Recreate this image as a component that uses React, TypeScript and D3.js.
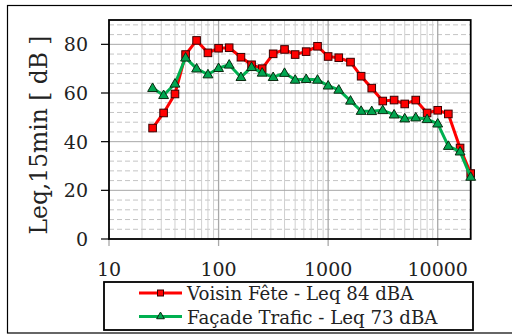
import React from "react";
import * as d3 from "d3";

const freqs = [25, 31.5, 40, 50, 63, 80, 100, 125, 160, 200, 250, 315, 400, 500, 630, 800, 1000, 1250, 1600, 2000, 2500, 3150, 4000, 5000, 6300, 8000, 10000, 12500, 16000, 20000];
const voisinFete = [45.6, 51.8, 59.6, 75.8, 81.6, 76.5, 78.4, 78.6, 74.7, 71.6, 70.0, 76.1, 77.9, 75.8, 77.0, 79.2, 75.0, 74.5, 72.7, 66.9, 62.0, 56.7, 57.1, 55.5, 57.1, 51.8, 52.9, 51.4, 37.4, 26.9];
const facadeTrafic = [62.0, 59.1, 63.8, 74.5, 70.0, 67.6, 70.2, 71.6, 66.5, 70.6, 68.3, 66.5, 68.2, 65.4, 65.7, 65.4, 63.0, 61.3, 56.8, 52.6, 52.5, 52.9, 51.1, 49.5, 49.9, 49.2, 47.4, 38.2, 35.9, 25.5];
const xTicks = [10, 100, 1000, 10000];
const yTicks = [0, 20, 40, 60, 80];
const seriesNames = ["Voisin Fête - Leq 84 dBA", "Façade Trafic - Leq 73 dBA"];
const yLabel = "Leq,15min [ dB ]";

const FONT = "'DejaVu Serif', serif";

export default function App() {
  const left = 109, right = 470.7, top = 20, bottom = 239;
  const x = d3.scaleLog().domain([10, 20000]).range([left, right]);
  const y = d3.scaleLinear().domain([0, 90]).range([bottom, top]);

  const minorX: number[] = [];
  [10, 100, 1000, 10000].forEach((dec) => {
    for (let k = 2; k <= 9; k++) {
      const v = dec * k;
      if (v < 20000) minorX.push(v);
    }
  });
  const minorYs = d3.range(0, 90, 4).filter((v) => v % 20 !== 0);

  const line = d3
    .line<number>()
    .x((_, i) => x(freqs[i]))
    .y((d) => y(d));

  const tri = d3.symbol().type(d3.symbolTriangle).size(42)();
  const triSmall = d3.symbol().type(d3.symbolTriangle).size(26)();

  const legY = [293, 316.5];

  return (
    <svg width={512} height={334} style={{ position: "fixed", left: 0, top: 0 }}>
      <rect x={0} y={0} width={512} height={334} fill="#fff" />
      <rect x={7.5} y={5.5} width={510} height={327.5} fill="none" stroke="#000" strokeWidth={1.2} />
      {minorYs.map((v) => (
        <line key={"my" + v} x1={left} x2={right} y1={y(v)} y2={y(v)} stroke="#c4c4c4" strokeWidth={1} strokeDasharray="5,3" />
      ))}
      {minorX.map((v) => (
        <line key={"mx" + v} x1={x(v)} x2={x(v)} y1={top} y2={bottom} stroke="#d0d0d0" strokeWidth={1} />
      ))}
      {xTicks.slice(1).map((v) => (
        <line key={"Mx" + v} x1={x(v)} x2={x(v)} y1={top} y2={bottom + 7} stroke="#a8a8a8" strokeWidth={1.3} />
      ))}
      <line x1={left} x2={left} y1={bottom} y2={bottom + 7} stroke="#a8a8a8" strokeWidth={1.3} />
      {yTicks.slice(1).map((v) => (
        <line key={"My" + v} x1={left} x2={right} y1={y(v)} y2={y(v)} stroke="#a8a8a8" strokeWidth={1} />
      ))}
      {yTicks.map((v) => (
        <line key={"yt" + v} x1={left - 8} x2={left} y1={y(v)} y2={y(v)} stroke="#000" strokeWidth={1.2} />
      ))}
      <rect x={left} y={top} width={right - left} height={bottom - top} fill="none" stroke="#000" strokeWidth={1.8} />

      <path d={line(voisinFete) || ""} fill="none" stroke="#ff0000" strokeWidth={3} strokeLinejoin="round" />
      {voisinFete.map((v, i) => (
        <rect key={"r" + i} x={x(freqs[i]) - 3.8} y={y(v) - 3.8} width={7.6} height={7.6} fill="#ff0000" stroke="#3a0000" strokeWidth={1} />
      ))}
      <path d={line(facadeTrafic) || ""} fill="none" stroke="#00b050" strokeWidth={3} strokeLinejoin="round" />
      {facadeTrafic.map((v, i) => (
        <path key={"t" + i} d={tri || ""} transform={`translate(${x(freqs[i])},${y(v) + 0.5})`} fill="#00a650" stroke="#0a2a10" strokeWidth={1} />
      ))}

      {yTicks.map((v) => (
        <text key={"yl" + v} x={88} y={y(v) + 7} textAnchor="end" fontFamily={FONT} fontSize={19} fill="#222">
          {v}
        </text>
      ))}
      {xTicks.map((v) => (
        <text key={"xl" + v} x={x(v)} y={276} textAnchor="middle" fontFamily={FONT} fontSize={19} fill="#222">
          {v}
        </text>
      ))}
      <text transform={`translate(47,135) rotate(-90)`} textAnchor="middle" fontFamily={FONT} fontSize={23.4} fill="#222">
        {yLabel}
      </text>

      <rect x={104} y={282} width={369} height={48} fill="#fff" stroke="#000" strokeWidth={1.8} />
      <line x1={139} x2={182} y1={legY[0]} y2={legY[0]} stroke="#ff0000" strokeWidth={3} />
      <rect x={160.5 - 3} y={legY[0] - 3} width={6} height={6} fill="#ff0000" stroke="#3a0000" strokeWidth={1} />
      <line x1={139} x2={182} y1={legY[1]} y2={legY[1]} stroke="#00b050" strokeWidth={3} />
      <path d={triSmall || ""} transform={`translate(160.5,${legY[1]})`} fill="#00a650" stroke="#0a2a10" strokeWidth={1} />
      <text x={187} y={300} fontFamily={FONT} fontSize={18.2} fill="#222">{seriesNames[0]}</text>
      <text x={187} y={324} fontFamily={FONT} fontSize={18.2} fill="#222">{seriesNames[1]}</text>
    </svg>
  );
}
